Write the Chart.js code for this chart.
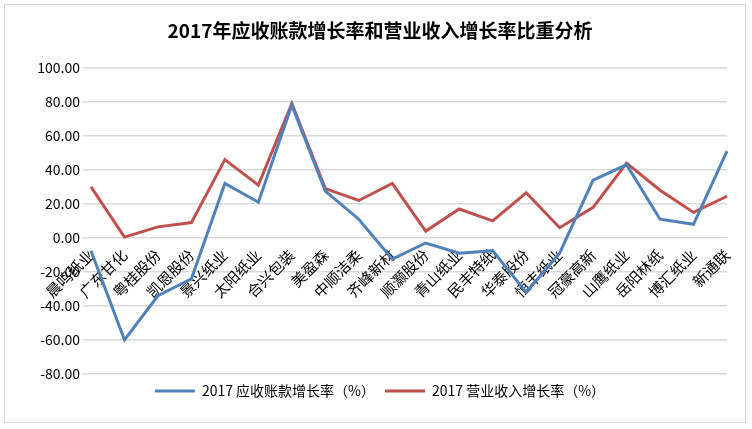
<!DOCTYPE html>
<html><head><meta charset="utf-8">
<script src="https://cdn.jsdelivr.net/npm/chart.js@4"></script>
<style>body{margin:0;background:#fff}#w{position:absolute;left:4px;top:4px;width:742px;height:419px;border:1px solid #d9d9d9;box-sizing:border-box}</style>
</head><body><div id="w"><canvas id="c"></canvas></div>
<script>
const categories=["晨鸣纸业","广东甘化","粤桂股份","凯恩股份","景兴纸业","太阳纸业","合兴包装","美盈森","中顺洁柔","齐峰新材","顺灏股份","青山纸业","民丰特纸","华泰股份","恒丰纸业","冠豪高新","山鹰纸业","岳阳林纸","博汇纸业","新通联"];
const receivableGrowth=[-7.5,-60,-34,-24,32,21,78,27.5,11,-12.5,-3,-9,-7.5,-32,-9,34,43,11,8,51];
const revenueGrowth=[30,0.5,6.5,9,46,31,79,29,22,32,4,17,10,26.5,6,18,44,28,15,24.5];
const seriesNames=["2017 应收账款增长率（%）","2017 营业收入增长率（%）"];
const F='"Noto Sans CJK SC","DejaVu Sans",sans-serif';
new Chart(document.getElementById('c'),{type:'line',
data:{labels:categories,datasets:[
{label:seriesNames[0],data:receivableGrowth,borderColor:'#4f81bd',backgroundColor:'#4f81bd',borderWidth:3,pointRadius:0,tension:0},
{label:seriesNames[1],data:revenueGrowth,borderColor:'#c0504d',backgroundColor:'#c0504d',borderWidth:3,pointRadius:0,tension:0}]},
options:{responsive:true,maintainAspectRatio:false,animation:false,
layout:{padding:{left:28,right:18,top:4,bottom:14}},
plugins:{title:{display:true,text:'2017年应收账款增长率和营业收入增长率比重分析',color:'#000',font:{family:F,size:19,weight:'bold'},padding:{top:10,bottom:26}},
legend:{position:'bottom',labels:{boxWidth:40,boxHeight:0,color:'#000',font:{family:F,size:14},padding:10}}},
scales:{x:{position:{y:0},grid:{display:false},border:{color:'#d9d9d9'},ticks:{color:'#000',font:{family:F,size:15},maxRotation:45,minRotation:45,autoSkip:false,padding:0}},
y:{min:-80,max:100,afterFit:s=>{s.width=58},grid:{color:'#d9d9d9',lineWidth:1.5},border:{display:false},ticks:{stepSize:20,color:'#000',font:{family:F,size:14},callback:v=>v.toFixed(2)}}}}});
</script></body></html>
